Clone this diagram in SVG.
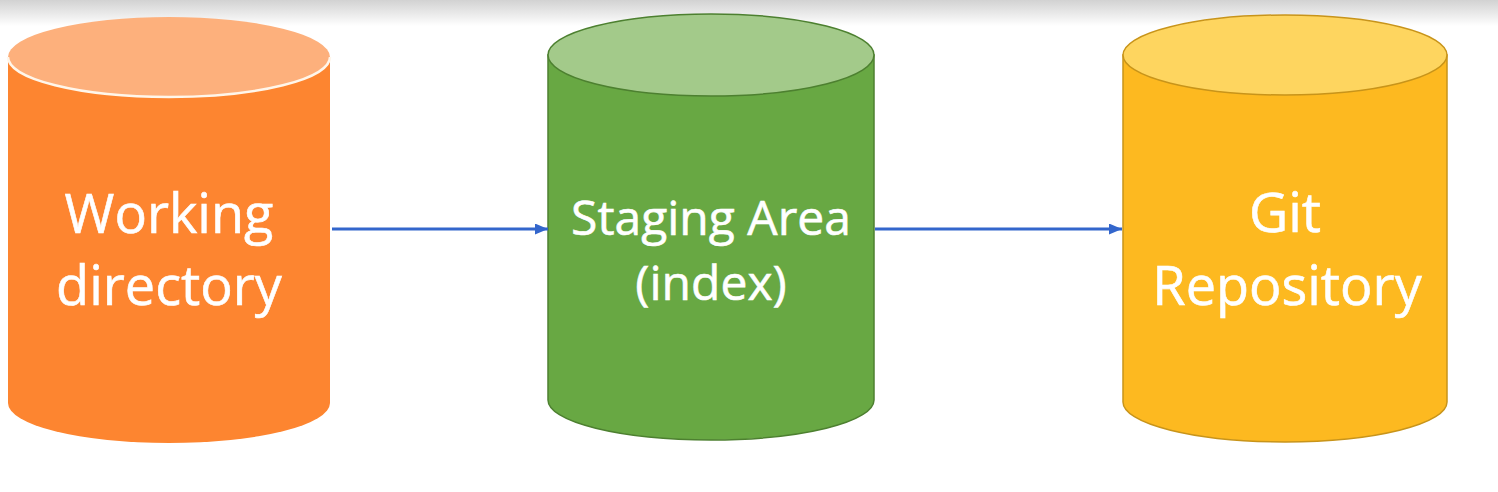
<svg xmlns="http://www.w3.org/2000/svg" width="1498" height="492" viewBox="0 0 1498 492">
<defs>
<linearGradient id="topShade" x1="0" y1="0" x2="0" y2="1">
<stop offset="0" stop-color="#d2d2d2"/>
<stop offset="1" stop-color="#ffffff"/>
</linearGradient>
<marker id="arrow" viewBox="0 0 13 11" refX="13" refY="5.5" markerWidth="13" markerHeight="11" markerUnits="userSpaceOnUse" orient="auto">
<path d="M0,0 L13,5.5 L0,11 Z" fill="#3366cc"/>
</marker>
<style>
.lbl{font-family:"Open Sans","Liberation Sans",sans-serif;fill:#ffffff;stroke:#ffffff;stroke-width:0.6;text-anchor:middle;}
.big{font-size:54px;}
.mid{font-size:48px;}
.conn{stroke:#3366cc;stroke-width:3.2;fill:none;}
</style>
</defs>
<rect x="0" y="0" width="1498" height="492" fill="#ffffff"/>
<rect x="0" y="0" width="1498" height="26" fill="url(#topShade)"/>

<g id="working-directory">
<path d="M8,57 L8,403 A161,40 0 0 0 330,403 L330,57 Z" fill="#fd8530"/>
<ellipse cx="169" cy="57" rx="161" ry="40" fill="#fdb07c"/>
<path d="M8,57 A161,40 0 0 0 330,57" fill="none" stroke="#fff6ea" stroke-width="2.5"/>
<text class="lbl big" x="169" y="233">Working</text>
<text class="lbl big" x="169" y="305">directory</text>
</g>

<g id="staging-area">
<path d="M548,55 L548,400 A163,40 0 0 0 874,400 L874,55 Z" fill="#68a843" stroke="#4d8030" stroke-width="1.5"/>
<ellipse cx="711" cy="55" rx="163" ry="41" fill="#a3ca8a" stroke="#4d8030" stroke-width="1.5"/>
<text class="lbl mid" x="711" y="235">Staging Area</text>
<text class="lbl mid" x="711" y="300">(index)</text>
</g>

<g id="git-repository">
<path d="M1123,55 L1123,402 A162,40 0 0 0 1447,402 L1447,55 Z" fill="#fdb920" stroke="#c8941a" stroke-width="1.5"/>
<ellipse cx="1285" cy="55" rx="162" ry="40" fill="#fed55f" stroke="#c8941a" stroke-width="1.5"/>
<text class="lbl big" x="1285" y="232">Git</text>
<text class="lbl big" x="1287" y="305">Repository</text>
</g>

<g id="connectors">
<line class="conn" x1="332" y1="229" x2="548" y2="229" marker-end="url(#arrow)"/>
<line class="conn" x1="875" y1="229" x2="1122" y2="229" marker-end="url(#arrow)"/>
</g>
</svg>
